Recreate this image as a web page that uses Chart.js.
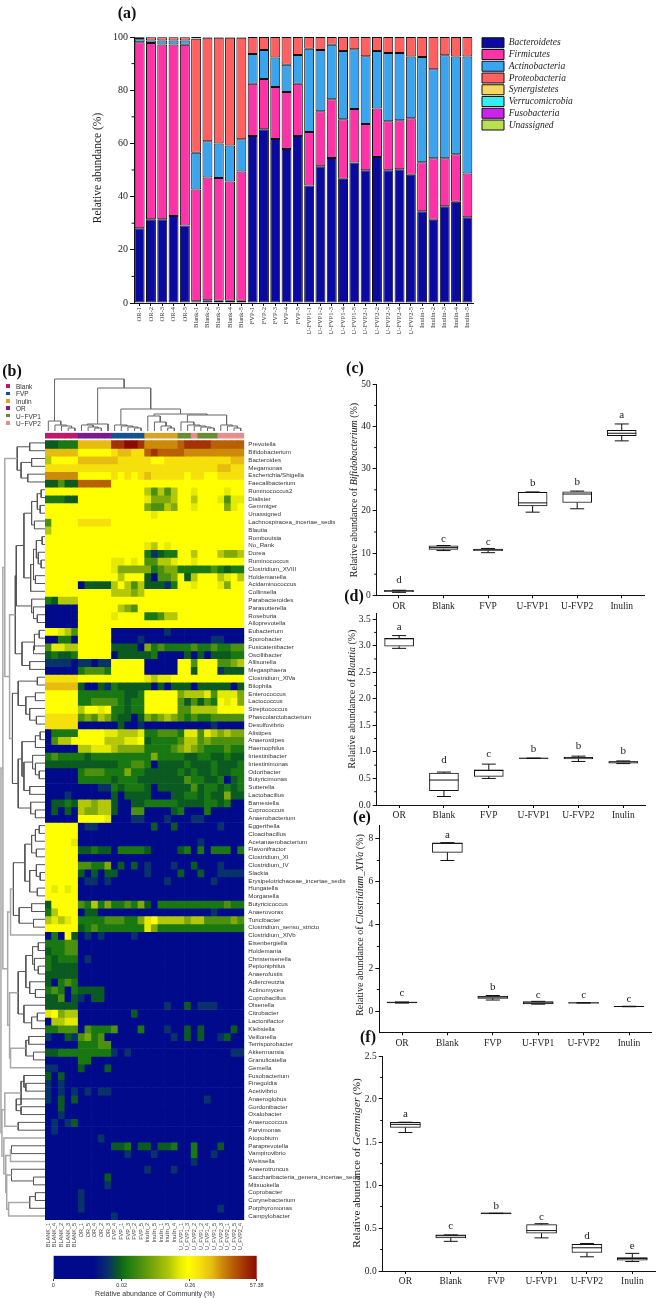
<!DOCTYPE html>
<html>
<head>
<meta charset="utf-8">
<script src="https://cdn.jsdelivr.net/npm/chart.js@4"></script>
<style>
  html, body { margin: 0; padding: 0; background: #fff; }
  body { position: relative; width: 657px; height: 1298px; overflow: hidden; }
  canvas { position: absolute; }
  .lbl { position: absolute; white-space: nowrap; color: #222; font-family: "Liberation Serif", serif; transform: translate(-50%, -50%); }
  .rot { transform: translate(-50%, -50%) rotate(-90deg); }
  .panel { font-weight: bold; font-size: 16px; color: #111; }
  .grp { font: 6.5px "Liberation Sans", sans-serif; color: #333; }
  .sq { position: absolute; width: 3.5px; height: 3.5px; }
</style>
</head>
<body>
<script>
// ---- panel (a) ----
const sampleLabels = ['OR-1','OR-2','OR-3','OR-4','OR-5','Blank-1','Blank-2','Blank-3','Blank-4','Blank-5',
  'FVP-1','FVP-2','FVP-3','FVP-4','FVP-5','U-FVP1-1','U-FVP1-2','U-FVP1-3','U-FVP1-4','U-FVP1-5',
  'U-FVP2-1','U-FVP2-2','U-FVP2-3','U-FVP2-4','U-FVP2-5','Inulin-1','Inulin-2','Inulin-3','Inulin-4','Inulin-5'];
const bacteroidetes = [28.1,31.5,31.5,32.7,29.1, 0.7,1,0.8,0.8,0.8, 62.8,65.3,61.7,57.9,62.8, 44.2,51.4,54.5,46.7,52.8, 49.9,54.9,49.9,50.3,48.2, 34.5,31.3,36.4,38.1,32.2];
const firmicutes = [69.9,66.2,65.7,64.5,68, 42,46.2,46.2,44.9,48.6, 19.6,18.9,19.5,21.4,19.6, 20.1,20.7,22.1,22.4,20.1, 17.4,18.2,18.4,18.4,21.3, 18.4,23.1,18,17.8,16.5];
const actinobacteria = [1.2,1,1.5,1.5,1.6, 13.8,13.6,13,13.5,12.2, 11.2,10.9,11.1,10.3,10.8, 31.3,23,20.5,25.6,22.5, 25.5,21.6,25.7,25.3,23.2, 39.6,33.5,38.7,36.8,44];
const proteobacteria = [0.7,1.2,1.2,1.2,1.2, 42.8,38.9,39.7,40.5,38.1, 6.4,4.9,7.7,10.4,6.8, 4.4,4.9,2.9,5.3,4.6, 7.2,5.3,6,6,7.3, 7.5,12.1,6.9,7.3,7.3];
const synergistetes = [0.03,0.03,0.03,0.03,0.03, 0.1,0.1,0.1,0.1,0.1, 0,0,0,0,0, 0,0,0,0,0, 0,0,0,0,0, 0,0,0,0,0];
const verrucomicrobia = [0,0,0,0,0, 0.05,0.05,0.05,0.05,0.05, 0,0,0,0,0, 0,0,0,0,0, 0,0,0,0,0, 0,0,0,0,0];
const fusobacteria = [0.02,0.02,0.02,0.02,0.02, 0.05,0,0,0,0, 0,0,0,0,0, 0,0,0,0,0, 0,0,0,0,0, 0,0,0,0,0];
const unassigned = [0.05,0.05,0.05,0.05,0.05, 0.5,0.15,0.15,0.15,0.15, 0,0,0,0,0, 0,0,0,0,0, 0,0,0,0,0, 0,0,0,0,0];
const phylaNames = ['Bacteroidetes','Firmicutes','Actinobacteria','Proteobacteria','Synergistetes','Verrucomicrobia','Fusobacteria','Unassigned'];
const phylaColors = ['#0a0aa0','#ff33a8','#3aa4ee','#ff6060','#f5d860','#33f0f0','#cc22ee','#b8e050'];
const phylaValues = [bacteroidetes,firmicutes,actinobacteria,proteobacteria,synergistetes,verrucomicrobia,fusobacteria,unassigned];
const aTicks = [0,20,40,60,80,100];

// ---- panel (b) ----
const groupNames = ['Blank','FVP','Inulin','OR','U−FVP1','U−FVP2'];
const groupColors = ['#c2186b','#17508e','#d9a324','#7a1a8c','#6b8a34','#e98c8c'];
const columnGroups = [0,0,0,0,0, 3,3,3,3,3, 1,1,1,1,1, 2,2,2,2,2, 4,4,5,4,4, 4,5,5,5,5];
const columnLabels = ['BLANK_1','BLANK_4','BLANK_2','BLANK_3','BLANK_5','OR_1','OR_5','OR_4','OR_2','OR_3',
  'FVP_4','FVP_1','FVP_3','FVP_2','FVP_5','Inulin_2','Inulin_5','Inulin_1','Inulin_3','Inulin_4',
  'U_FVP1_1','U_FVP1_3','U_FVP2_2','U_FVP1_2','U_FVP1_4','U_FVP1_5','U_FVP2_3','U_FVP2_1','U_FVP2_5','U_FVP2_4'];
const rowLabels = ['Prevotella','Bifidobacterium','Bacteroides','Megamonas','Escherichia/Shigella','Faecalibacterium','Ruminococcus2','Dialister','Gemmiger','Unassigned',
  'Lachnospiracea_incertae_sedis','Blautia','Romboutsia','No_Rank','Dorea','Ruminococcus','Clostridium_XVIII','Holdemanella','Acidaminococcus','Collinsella',
  'Parabacteroides','Parasutterella','Roseburia','Alloprevotella','Eubacterium','Sporobacter','Fusicatenibacter','Oscillibacter','Allisonella','Megasphaera',
  'Clostridium_XlVa','Bilophila','Enterococcus','Lactococcus','Streptococcus','Phascolarctobacterium','Desulfovibrio','Alistipes','Anaerostipes','Haemophilus',
  'Intestinibacter','Intestinimonas','Odoribacter','Butyricimonas','Sutterella','Lactobacillus','Barnesiella','Coprococcus','Anaerobacterium','Eggerthella',
  'Cloacibacillus','Acetanaerobacterium','Flavonifractor','Clostridium_XI','Clostridium_IV','Slackia','Erysipelotrichaceae_incertae_sedis','Hungatella','Morganella','Butyricicoccus',
  'Anaerovorax','Turicibacter','Clostridium_sensu_stricto','Clostridium_XlVb','Eisenbergiella','Holdemania','Christensenella','Peptoniphilus','Anaerofustis','Adlercreutzia',
  'Actinomyces','Coprobacillus','Olsenella','Citrobacter','Lactonifactor','Klebsiella','Veillonella','Terrisporobacter','Akkermansia','Granulicatella',
  'Gemella','Fusobacterium','Finegoldia','Acetivibrio','Anaeroglobus','Gordonibacter','Oxalobacter','Anaerococcus','Parvimonas','Atopobium',
  'Paraprevotella','Vampirovibrio','Weissella','Anaerotruncus','Saccharibacteria_genera_incertae_sedis','Mitsuokella','Coprobacter','Corynebacterium','Porphyromonas','Campylobacter'];
// cell values are read as steps on the colour bar: 0 navy, 3 green, 8 yellow, 11 orange, 14 dark red
const heatLevels = [
[2,2,3,3,3, 10,10,10,10,10, 13,13,14,14,13, 11,11,11,11,11, 12,13,13,13,13, 12,12,12,12,12],
[10,10,10,10,10, 8,8,8,8,8, 9,10,10,9,9, 12,13,12,12,12, 12,11,11,11,11, 11,11,11,11,11],
[6,8,8,8,8, 10,10,10,10,10, 10,9,9,9,9, 9,8,8,9,9, 9,9,9,9,9, 9,9,9,10,10],
[9,9,9,9,9, 9,9,9,9,9, 9,9,9,9,9, 9,9,9,9,9, 9,9,9,9,9, 9,10,10,9,9],
[11,11,11,11,11, 8,8,8,8,8, 9,8,9,8,9, 10,9,9,9,9, 9,8,9,9,8, 8,9,9,9,9],
[2,2,4,2,2, 12,12,12,12,12, 8,8,8,8,8, 8,8,8,8,8, 8,8,8,8,8, 8,8,8,8,8],
[8,8,8,8,8, 8,8,8,8,8, 8,8,8,8,8, 6,4,6,4,6, 8,8,7,8,8, 8,8,7,8,8],
[3,3,3,2,2, 8,8,8,8,8, 8,8,8,8,8, 7,5,5,5,6, 8,8,6,8,8, 8,7,4,7,7],
[8,8,8,8,8, 8,8,8,8,8, 8,8,8,8,8, 5,4,4,6,5, 8,8,7,8,8, 8,8,5,7,8],
[8,8,8,8,8, 8,8,8,8,8, 8,8,8,8,8, 8,7,8,8,8, 8,8,8,8,8, 8,8,8,8,8],
[4,8,8,8,8, 9,9,9,9,9, 8,8,8,8,8, 8,8,8,8,8, 8,8,8,8,8, 8,8,8,8,8],
[6,8,8,8,8, 8,8,8,8,8, 8,8,8,8,8, 8,8,8,8,8, 8,8,8,8,8, 8,8,8,8,8],
[8,8,8,8,8, 8,8,8,8,8, 8,8,8,8,8, 8,8,8,8,8, 8,8,8,8,8, 8,8,8,8,8],
[8,8,8,8,8, 8,8,8,8,8, 8,8,8,8,8, 7,6,8,7,8, 8,8,8,8,8, 8,8,8,8,8],
[8,8,8,8,8, 8,8,8,8,8, 8,8,8,8,8, 3,1,2,3,3, 8,8,6,8,8, 8,6,5,5,6],
[8,8,8,8,8, 8,8,8,8,8, 7,7,8,7,8, 4,4,6,6,7, 8,8,7,8,8, 8,8,8,8,8],
[8,8,8,8,8, 8,8,8,8,8, 7,5,5,5,5, 5,3,4,5,5, 3,3,3,3,3, 4,3,2,3,3],
[8,8,8,8,8, 8,8,8,8,8, 8,6,8,8,8, 2,0,4,4,5, 8,2,6,8,8, 8,6,7,8,6],
[8,8,8,8,8, 0,2,2,2,2, 6,8,6,4,6, 2,2,2,1,3, 8,8,7,8,8, 8,7,5,8,8],
[8,8,8,8,8, 8,8,8,8,8, 6,6,6,5,6, 8,8,8,8,8, 8,8,8,8,8, 8,8,8,8,8],
[3,2,6,6,6, 8,8,8,8,8, 8,8,8,8,8, 8,8,8,8,8, 8,8,8,8,8, 8,8,8,8,8],
[0,0,0,0,0, 8,8,8,8,8, 8,6,5,4,8, 8,8,8,8,8, 8,8,8,8,8, 8,8,8,8,8],
[0,0,0,0,0, 8,8,8,8,8, 7,8,8,8,8, 3,3,4,6,6, 8,8,8,8,8, 8,8,8,8,8],
[0,0,0,0,0, 8,8,8,8,8, 8,8,8,8,8, 8,8,8,8,8, 8,8,8,8,8, 8,8,8,8,8],
[8,8,7,6,4, 8,8,8,8,8, 0,0,0,0,0, 0,0,0,1,0, 0,0,0,0,0, 0,0,0,0,0],
[0,0,3,3,0, 8,8,8,8,8, 0,0,0,0,1, 0,0,0,0,0, 0,0,0,0,0, 1,1,0,0,0],
[4,7,7,6,6, 8,8,8,8,8, 2,2,2,2,0, 5,3,4,3,3, 3,3,4,3,3, 4,3,3,4,4],
[2,3,2,2,3, 8,8,8,8,8, 0,2,2,2,2, 2,3,0,0,0, 0,2,0,2,0, 2,2,2,3,3],
[1,1,1,1,0, 1,1,0,1,1, 8,8,8,8,8, 0,0,0,0,0, 8,8,4,8,8, 8,4,4,5,6],
[0,0,0,0,0, 3,4,4,4,3, 8,8,8,8,8, 0,0,0,0,0, 8,8,2,8,8, 8,1,2,2,2],
[9,9,9,9,9, 8,8,8,8,8, 8,8,8,8,8, 7,6,7,7,8, 8,8,8,8,8, 8,8,8,8,8],
[10,10,10,10,10, 2,0,0,2,1, 3,2,2,2,2, 2,0,2,0,2, 2,2,0,2,2, 2,2,2,0,2],
[8,8,8,8,8, 3,3,3,3,3, 3,3,2,2,3, 8,8,8,8,8, 5,6,6,6,7, 4,7,7,7,5],
[8,8,8,8,8, 3,3,4,4,4, 4,3,2,3,3, 8,8,8,8,8, 4,2,4,2,4, 3,8,7,8,5],
[8,8,8,8,8, 6,8,8,7,8, 3,3,2,3,3, 8,8,8,8,8, 4,4,6,6,6, 6,8,8,8,8],
[9,9,9,9,9, 4,5,4,6,5, 3,2,2,0,2, 5,4,5,6,5, 4,3,4,3,3, 4,4,4,4,4],
[9,9,9,9,9, 0,0,0,0,0, 0,2,0,0,1, 0,0,0,0,0, 0,0,0,0,0, 1,0,0,0,0],
[0,3,3,3,3, 8,8,8,8,7, 7,6,6,6,7, 3,3,4,4,4, 3,7,7,4,7, 6,5,6,5,5],
[0,4,6,6,8, 8,8,8,8,6, 6,6,7,7,8, 2,3,3,3,3, 4,6,6,4,5, 4,4,4,4,4],
[0,0,0,0,0, 6,6,7,7,7, 6,5,5,5,5, 3,3,3,3,4, 5,6,5,4,3, 3,3,4,3,3],
[3,4,3,3,3, 3,2,3,3,3, 3,3,3,3,3, 3,5,3,3,3, 3,2,2,3,3, 2,2,3,2,2],
[2,2,2,2,2, 2,2,2,2,2, 2,3,3,4,4, 3,0,2,2,2, 2,3,2,2,2, 3,2,2,2,3],
[0,0,0,0,0, 3,4,4,4,3, 3,3,5,3,3, 2,2,2,2,2, 3,2,3,2,2, 3,2,2,3,3],
[0,0,0,0,0, 3,3,3,3,3, 2,3,3,3,2, 2,2,2,2,2, 2,4,3,3,2, 2,3,0,2,3],
[0,0,0,0,0, 0,0,0,1,1, 3,2,3,3,3, 2,0,2,2,2, 2,2,4,2,3, 3,2,3,2,3],
[0,0,0,1,0, 0,0,0,0,0, 2,0,2,2,2, 2,0,0,0,2, 2,3,3,2,3, 2,2,5,2,2],
[0,2,2,3,2, 6,6,5,6,6, 2,0,0,2,2, 3,3,3,3,3, 2,2,2,2,3, 3,2,3,0,0],
[0,2,0,2,0, 6,5,5,6,6, 2,0,0,4,4, 0,0,0,0,2, 3,0,0,0,3, 0,0,0,0,0],
[0,0,0,0,0, 8,8,8,8,7, 0,0,0,1,1, 0,0,0,1,0, 0,0,1,1,0, 0,0,0,0,0],
[8,8,8,8,8, 0,1,1,0,0, 0,0,0,0,0, 0,2,0,0,2, 0,0,0,0,0, 0,1,0,0,0],
[8,8,8,8,8, 0,0,0,0,0, 0,0,0,0,0, 0,0,0,0,0, 0,0,0,0,0, 0,0,0,0,0],
[8,8,8,8,7, 0,0,0,0,0, 0,0,0,0,0, 0,0,0,0,0, 0,0,0,1,0, 0,0,0,0,0],
[8,8,8,8,8, 2,2,3,2,2, 0,3,3,3,3, 2,0,0,0,0, 2,3,0,3,0, 3,3,3,0,3],
[8,8,8,8,8, 0,0,0,0,0, 0,0,0,0,0, 0,0,0,0,0, 0,0,0,0,0, 0,0,0,0,0],
[8,8,8,8,8, 4,4,3,3,5, 0,2,0,2,0, 1,0,0,0,1, 0,0,2,0,0, 0,1,0,0,0],
[8,8,8,8,8, 2,0,2,0,2, 2,0,0,0,0, 1,0,0,0,0, 2,0,0,2,0, 0,1,1,1,1],
[8,8,8,8,8, 0,1,1,0,1, 0,0,0,0,0, 0,0,0,1,0, 0,0,0,0,0, 1,0,0,0,0],
[8,7,8,7,8, 0,0,0,0,0, 0,0,0,0,0, 0,0,0,0,0, 0,0,0,0,0, 0,0,0,0,0],
[8,8,8,8,8, 0,0,0,0,0, 0,0,0,0,0, 0,0,0,0,0, 0,0,0,0,0, 0,0,0,0,0],
[2,8,8,8,8, 4,3,6,3,5, 3,3,4,3,5, 2,0,3,3,3, 3,3,3,3,3, 3,3,4,3,3],
[3,6,8,8,8, 0,2,2,0,0, 0,0,0,0,0, 0,0,0,0,0, 0,0,0,0,0, 1,0,0,0,0],
[6,7,6,7,8, 3,3,3,3,4, 4,4,3,3,5, 7,8,6,6,6, 6,5,6,6,4, 4,4,4,5,4],
[8,8,8,8,8, 2,3,4,3,3, 3,3,3,3,3, 7,5,3,3,3, 3,3,3,3,3, 3,3,3,3,3],
[0,3,0,8,2, 0,1,0,1,0, 0,0,0,1,0, 0,0,0,0,0, 0,0,0,0,0, 0,0,0,0,0],
[3,3,3,4,4, 0,0,0,0,0, 0,0,0,0,0, 0,0,0,0,0, 0,0,0,0,0, 0,0,0,0,0],
[2,3,3,4,4, 0,0,0,0,0, 0,0,0,0,0, 0,0,0,0,0, 0,0,0,0,0, 0,0,0,0,0],
[3,2,3,3,3, 0,1,0,0,0, 0,0,0,0,0, 0,0,0,0,0, 0,0,0,0,0, 0,0,0,0,0],
[3,2,2,2,2, 0,0,0,0,0, 0,0,0,0,0, 0,0,0,0,0, 0,0,0,0,0, 0,0,0,0,0],
[2,2,2,2,2, 0,0,0,0,0, 0,0,0,0,0, 0,0,0,0,0, 0,0,0,0,0, 0,0,0,0,0],
[2,0,3,4,3, 0,0,0,0,0, 0,0,0,0,0, 0,0,0,0,0, 0,0,0,0,0, 0,0,0,0,0],
[3,4,3,0,3, 2,2,2,2,0, 0,0,0,0,0, 0,0,0,0,0, 0,0,0,0,0, 0,0,0,0,0],
[2,2,4,0,2, 1,0,2,2,0, 0,0,0,0,0, 0,0,0,0,0, 0,0,0,0,0, 0,0,0,0,0],
[2,2,2,2,2, 0,0,0,0,0, 0,0,0,0,0, 0,0,0,1,0, 0,2,0,1,1, 1,0,0,0,0],
[7,8,5,6,6, 0,0,0,0,0, 0,0,0,2,0, 0,0,0,0,0, 0,0,0,0,0, 0,0,0,0,0],
[0,6,6,7,7, 0,0,0,0,0, 0,0,0,0,0, 0,0,0,0,0, 0,0,0,0,0, 0,0,0,0,0],
[3,3,4,4,4, 0,4,3,3,3, 4,0,0,0,3, 0,0,0,1,0, 0,2,0,2,0, 0,0,0,2,0],
[1,0,0,2,1, 4,5,3,4,0, 0,0,0,0,0, 0,0,0,0,1, 0,2,0,2,0, 0,1,2,0,0],
[0,0,0,0,0, 3,3,3,4,4, 0,0,0,0,0, 0,0,0,0,0, 0,0,0,0,0, 0,0,0,0,0],
[2,2,3,3,3, 3,3,3,3,3, 1,0,1,0,0, 0,0,0,0,0, 0,0,0,0,0, 0,0,0,1,1],
[0,0,0,0,0, 3,3,0,0,0, 0,0,0,0,0, 0,0,0,0,0, 0,0,0,0,0, 0,0,0,0,0],
[1,1,0,0,0, 2,0,0,0,2, 0,0,0,0,0, 0,0,0,0,0, 0,0,0,0,0, 0,0,0,0,0],
[2,0,2,0,0, 0,0,0,0,0, 0,0,0,0,0, 0,0,0,0,0, 0,0,0,0,0, 0,0,0,0,0],
[1,0,1,0,0, 0,0,0,0,0, 0,0,0,0,0, 0,0,0,0,0, 0,0,0,0,0, 0,0,0,0,0],
[1,0,1,0,1, 0,1,0,1,1, 0,0,0,0,0, 0,0,0,0,0, 0,0,0,0,0, 0,0,0,0,0],
[1,0,2,0,2, 0,0,0,0,0, 0,0,0,0,0, 0,0,0,0,0, 0,0,0,0,1, 0,0,0,0,0],
[0,0,2,0,0, 0,0,0,0,0, 0,0,0,0,0, 0,0,0,0,0, 0,0,0,0,0, 0,0,0,0,0],
[0,0,1,0,0, 0,0,0,0,0, 0,0,0,0,0, 0,0,0,0,0, 0,0,0,0,0, 0,0,0,0,0],
[0,1,0,1,2, 0,0,0,0,0, 0,0,0,0,0, 0,0,0,0,0, 0,0,0,0,0, 0,0,0,0,0],
[0,1,0,0,0, 0,0,0,0,0, 0,0,0,0,0, 0,0,0,0,0, 0,0,0,0,0, 0,0,0,0,0],
[0,0,0,0,0, 0,0,0,1,0, 0,0,0,0,0, 0,0,0,0,0, 0,0,0,0,0, 0,0,0,0,0],
[0,0,0,0,0, 0,0,0,0,0, 2,2,3,0,2, 2,0,2,2,3, 0,0,3,0,0, 0,2,0,0,0],
[0,0,0,0,0, 0,0,0,0,0, 0,0,1,0,0, 0,1,0,0,0, 0,0,3,0,0, 1,0,0,0,0],
[0,0,0,0,0, 0,0,0,0,0, 0,0,0,0,0, 0,0,0,0,0, 0,0,1,0,0, 0,0,0,0,0],
[0,0,0,0,0, 0,0,0,0,0, 0,0,0,0,0, 1,0,0,0,1, 0,0,0,0,0, 0,0,0,0,0],
[0,0,0,0,0, 0,0,0,0,2, 0,0,0,0,0, 0,0,0,0,0, 0,0,0,0,0, 0,0,0,0,0],
[0,0,0,0,0, 0,0,0,0,1, 0,0,0,0,0, 0,0,0,0,0, 0,0,0,0,0, 0,0,0,0,0],
[0,0,0,0,0, 1,0,0,0,0, 0,0,0,0,0, 0,0,0,0,0, 0,0,0,0,0, 0,0,0,0,0],
[0,0,0,0,0, 1,0,0,0,0, 0,0,0,0,0, 0,0,0,0,0, 0,0,0,0,0, 0,0,0,0,0],
[0,0,0,0,0, 1,0,0,0,0, 0,0,0,0,0, 0,0,0,0,0, 0,0,0,0,0, 0,1,0,0,0],
[0,0,0,0,0, 0,0,0,0,0, 1,0,0,0,0, 0,0,0,0,0, 0,0,0,0,0, 0,0,0,0,0]
];
// colour bar: colour of each step and where that step sits along the bar
const stepColors = ['#000a8a','#08326a','#0a5a22','#197812','#4c900e','#80aa0a','#b2c808','#e4ea02','#ffff00','#f6e00c','#e6bc10','#cc8a08','#b86006','#a33204','#8b0a00'];
const stepPositions = [0.2,0.27,0.32,0.36,0.43,0.5,0.57,0.62,0.664,0.72,0.78,0.83,0.88,0.94,1];
const barTicks = [0,0.336,0.672,1];
const barTickLabels = ['0','0.02','0.26','57.38'];
// dendrograms: [height, childA, childB], a plain number is a row or column index
const g1 = [29,[16,0,1],[25,[14,2,3],[18,4,5]]];
const g2 = [30,[22,[14,[8,[4,6,7],[5,8,9]],[11,10,11]],[15,[12,[9,[3,12,13],[7,14,[4,15,16]]],[10,17,18]],19]],[14,20,[12,21,[8,22,23]]]];
const g3 = [24,[11,[6,24,25],[12,26,27]],[16,28,29]];
const d1 = [28,[8,30,31],[20,[10,32,33],[16,34,[9,35,36]]]];
const d2 = [28,[24,[10,[5,37,38],39],[22,[13,40,[10,41,[6,42,43]]],[16,44,45]]],[15,46,[10,47,48]]];
const d3 = [36,[33,[21,[14,[10,[6,49,50],51],[9,52,53]],[16,[9,54,[5,55,56]],[8,57,58]]],[27,[14,59,60],[12,61,62]]],63];
const d4 = [28,[20,[13,[7,64,65],[11,66,[7,67,68]]],[16,69,[10,70,71]]],[22,72,[14,[8,73,74],75]]];
const d5 = [36,[20,[17,76,77],[12,78,79]],80];
const d6 = [42,[25,[22,81,[20,82,83]],[30,84,[25,85,86]]],[28,87,88]];
const d7 = [43,89,[41,[36,[35,90,91],92],[40,[35,93,[12,94,95]],[38,[16,[10,96,97],98],99]]]];
const rowTree = [46,[44,[42,g1,[37,[31,g2,g3],[34,d1,d2]]],[39,d3,[37,d4,d5]]],[45,d6,d7]];
const columnTree = [52,[10,0,[6,1,[5,2,[3,3,4]]]],[43,[7,[6,5,[4,6,[3,7,8]]],9],[22,[6,10,[5,11,[4,12,[3,13,14]]]],[17,[15,15,[9,16,[5,17,[3,18,19]]]],[16,[9,20,[6,21,[5,22,[4,23,[3,24,25]]]]],[6,26,[5,27,[3,28,29]]]]]]]];

// ---- panels (c) to (f) ----
const boxGroups = ['OR','Blank','FVP','U-FVP1','U-FVP2','Inulin'];
const cTicks = [0,10,20,30,40,50];
const cQ1 = [0.85,10.9,10.6,21.2,22,37.8];
const cQ3 = [1.15,11.7,10.95,24.4,24.5,39.1];
const cMedian = [1,11.3,10.8,21.9,24,38.4];
const cLow = [0.7,10.6,10.1,19.7,20.5,36.6];
const cHigh = [1.2,11.8,11.1,24.5,24.7,40.6];
const cLetters = ['d','c','c','b','b','a'];
const cLetterY = [3.5,13.3,12.6,26.5,26.9,42.6];

const dTicks = [0,0.5,1,1.5,2,2.5,3,3.5];
const dQ1 = [2.99,0.27,0.54,0.875,0.87,0.79];
const dQ3 = [3.14,0.6,0.66,0.885,0.9,0.82];
const dMedian = [3.13,0.47,0.65,0.88,0.89,0.81];
const dLow = [2.95,0.16,0.5,0.88,0.82,0.78];
const dHigh = [3.19,0.62,0.77,0.88,0.92,0.83];
const dLetters = ['a','d','c','b','b','b'];
const dLetterY = [3.35,0.84,0.96,1.06,1.11,1.02];

const eTicks = [0,2,4,6,8];
const eQ1 = [0.38,7.38,0.59,0.33,0.37,0.2];
const eQ3 = [0.42,7.81,0.7,0.44,0.39,0.22];
const eMedian = [0.4,7.8,0.65,0.38,0.38,0.21];
const eLow = [0.37,7,0.51,0.32,0.38,0.2];
const eHigh = [0.42,7.83,0.72,0.45,0.38,0.22];
const eLetters = ['c','a','b','c','c','c'];
const eLetterY = [0.81,8.17,1.1,0.76,0.74,0.56];

const fTicks = [0,0.5,1,1.5,2,2.5];
const fQ1 = [1.67,0.385,0.665,0.44,0.215,0.125];
const fQ3 = [1.73,0.42,0.675,0.54,0.31,0.155];
const fMedian = [1.705,0.41,0.67,0.47,0.27,0.145];
const fLow = [1.61,0.345,0.67,0.385,0.165,0.11];
const fHigh = [1.73,0.42,0.67,0.55,0.32,0.205];
const fLetters = ['a','c','b','c','d','e'];
const fLetterY = [1.83,0.52,0.76,0.63,0.41,0.29];

Chart.defaults.font.family = '"Liberation Serif", serif';
Chart.defaults.color = '#222';
Chart.defaults.animation = false;
Chart.defaults.responsive = false;
Chart.defaults.plugins.tooltip.enabled = false;
Chart.defaults.plugins.legend.display = false;

function addCanvas(x, y, w, h) {
    const c = document.createElement('canvas');
    c.width = w;
    c.height = h;
    c.style.left = x + 'px';
    c.style.top = y + 'px';
    document.body.appendChild(c);
    return c;
}

function addLabel(html, x, y, cls, size) {
    const d = document.createElement('div');
    d.className = 'lbl ' + (cls || '');
    d.innerHTML = html;
    d.style.left = x + 'px';
    d.style.top = y + 'px';
    if (size) d.style.fontSize = size + 'px';
    document.body.appendChild(d);
}

// short ticks half way between the major ones
const minorTicks = {
    id: 'minorTicks',
    afterDraw(chart) {
        const y = chart.scales.y, ctx = chart.ctx;
        ctx.save();
        ctx.strokeStyle = '#111';
        ctx.lineWidth = 1;
        ctx.beginPath();
        y.ticks.slice(1).forEach((t, i) => {
            const p = y.getPixelForValue((t.value + y.ticks[i].value) / 2);
            ctx.moveTo(y.right, p);
            ctx.lineTo(y.right - 2.5, p);
        });
        ctx.stroke();
        ctx.restore();
    }
};

// legend sits beside the plot, the box is moved there so the plot keeps its width
const legendPlace = {
    id: 'legendPlace',
    beforeDraw(chart) {
        const lg = chart.legend;
        lg.left = 480.25;
        lg.top = 36;
        lg.right = 657;
        lg.bottom = 140;
    }
};

// panel (a)
new Chart(addCanvas(0, 0, 657, 345), {
    type: 'bar',
    data: {
        labels: sampleLabels,
        datasets: phylaNames.map((name, i) => ({
            label: name,
            data: phylaValues[i],
            backgroundColor: phylaColors[i],
            borderColor: '#111',
            borderWidth: 1,
            borderSkipped: false,
            inflateAmount: 0,
            barPercentage: 0.88,
            categoryPercentage: 1
        }))
    },
    options: {
        layout: { padding: { top: 37, right: 184 } },
        plugins: {
            legend: {
                display: true,
                position: 'chartArea',
                align: 'start',
                labels: {
                    boxWidth: 22,
                    boxHeight: 10,
                    padding: 1.75,
                    color: '#222',
                    font: { size: 9.5, style: 'italic' }
                }
            }
        },
        scales: {
            x: {
                stacked: true,
                grid: { offset: false, drawOnChartArea: false, tickLength: 3, color: '#111' },
                border: { color: '#111' },
                ticks: { autoSkip: false, minRotation: 90, maxRotation: 90, padding: 1, color: '#333', font: { size: 6.5 } },
                afterFit: s => { s.height = 42; }
            },
            y: {
                stacked: true,
                min: 0,
                max: 100,
                afterBuildTicks: s => { s.ticks = aTicks.map(value => ({ value })); },
                grid: { drawOnChartArea: false, tickLength: 4, color: '#111' },
                border: { color: '#111' },
                ticks: { padding: 2, color: '#222', font: { size: 10 } },
                afterFit: s => { s.width = 134; }
            }
        }
    },
    plugins: [minorTicks, legendPlace]
});

// panel (b) heatmap
const heatDatasets = heatLevels.map((row, r) => ({
    data: row.map(() => [r, r + 1]),
    backgroundColor: row.map(v => stepColors[v]),
    borderWidth: 0,
    barPercentage: 1,
    categoryPercentage: 1,
    grouped: false
}));
heatDatasets.push({
    data: columnGroups.map(() => [-1, -0.3]),
    backgroundColor: columnGroups.map(g => groupColors[g]),
    borderWidth: 0,
    barPercentage: 1,
    categoryPercentage: 1,
    grouped: false
});

new Chart(addCanvas(40, 425, 320, 835), {
    type: 'bar',
    data: { labels: columnLabels, datasets: heatDatasets },
    options: {
        layout: { padding: { left: 5, top: 6.2 } },
        scales: {
            x: {
                grid: { display: false, drawTicks: false },
                border: { display: false },
                ticks: { autoSkip: false, minRotation: 90, maxRotation: 90, padding: 3, color: '#444', font: { family: '"Liberation Sans", sans-serif', size: 5.5 } },
                afterFit: s => { s.height = 40; }
            },
            y: {
                position: 'right',
                reverse: true,
                min: -1,
                max: 100,
                afterBuildTicks: s => { s.ticks = rowLabels.map((_, i) => ({ value: i + 0.5 })); },
                grid: { display: false, drawTicks: false },
                border: { display: false },
                ticks: {
                    autoSkip: false,
                    padding: 4,
                    color: '#333',
                    font: { family: '"Liberation Sans", sans-serif', size: 6.2 },
                    callback: v => rowLabels[v - 0.5]
                },
                afterFit: s => { s.width = 115.7; }
            }
        }
    }
});

// dendrogram segments from a nested tree, split at one height into dark and light lines
function treeLines(tree, lightFrom) {
    const dark = [], light = [];
    const gap = { h: NaN, pos: NaN };
    const walk = node => {
        if (typeof node === 'number') return { h: 0, pos: node + 0.5 };
        const a = walk(node[1]), b = walk(node[2]);
        const h = node[0];
        const out = h >= lightFrom ? light : dark;
        out.push({ h: a.h, pos: a.pos }, { h, pos: a.pos }, { h, pos: b.pos }, { h: b.h, pos: b.pos }, gap);
        return { h, pos: (a.pos + b.pos) / 2 };
    };
    walk(tree);
    return { dark, light };
}

const rowLines = treeLines(rowTree, 36);
new Chart(addCanvas(0, 439, 45, 781), {
    type: 'scatter',
    data: {
        datasets: [
            { data: rowLines.light.map(p => ({ x: p.h, y: p.pos })), showLine: true, pointRadius: 0, borderColor: '#a8a8a8', borderWidth: 1.5 },
            { data: rowLines.dark.map(p => ({ x: p.h, y: p.pos })), showLine: true, pointRadius: 0, borderColor: '#555', borderWidth: 1 }
        ]
    },
    options: {
        scales: {
            x: { display: false, reverse: true, min: 0, max: 47 },
            y: { display: false, reverse: true, min: 0, max: 100 }
        }
    }
});

const colLines = treeLines(columnTree, 100);
new Chart(addCanvas(45, 375, 199, 56), {
    type: 'scatter',
    data: {
        datasets: [
            { data: colLines.dark.map(p => ({ x: p.pos, y: p.h })), showLine: true, pointRadius: 0, borderColor: '#666', borderWidth: 1 }
        ]
    },
    options: {
        scales: {
            x: { display: false, min: 0, max: 30 },
            y: { display: false, min: 0, max: 56 }
        }
    }
});

// panel (b) colour bar
new Chart(addCanvas(40, 1248, 240, 50), {
    type: 'bar',
    data: {
        labels: [''],
        datasets: [{
            data: [[0, 1]],
            borderWidth: 0,
            barPercentage: 1,
            categoryPercentage: 1,
            backgroundColor: ctx => {
                const area = ctx.chart.chartArea;
                if (!area) return stepColors[0];
                const g = ctx.chart.ctx.createLinearGradient(area.left, 0, area.right, 0);
                g.addColorStop(0, stepColors[0]);
                stepColors.forEach((c, i) => g.addColorStop(stepPositions[i], c));
                return g;
            }
        }]
    },
    options: {
        indexAxis: 'y',
        layout: { padding: { top: 7.7, left: 13.3, right: 23.3 } },
        scales: {
            y: { display: false },
            x: {
                min: 0,
                max: 1,
                afterBuildTicks: s => { s.ticks = barTicks.map(value => ({ value })); },
                grid: { drawOnChartArea: false, tickLength: 2, color: '#333' },
                border: { display: false },
                ticks: {
                    padding: 1,
                    maxRotation: 0,
                    color: '#333',
                    font: { family: '"Liberation Sans", sans-serif', size: 5.5 },
                    callback: v => barTickLabels[barTicks.indexOf(v)]
                },
                title: { display: true, text: 'Relative abundance of Community (%)', color: '#333', padding: { top: 1, bottom: 0 }, font: { family: '"Liberation Sans", sans-serif', size: 7 } },
                afterFit: s => { s.height = 19; }
            }
        }
    }
});

// whiskers, caps, medians and significance letters of a box panel
function boxMarks(median, low, high, letters, letterY) {
    return {
        id: 'boxMarks',
        afterDatasetsDraw(chart) {
            const x = chart.scales.x, y = chart.scales.y, ctx = chart.ctx;
            const half = chart.getDatasetMeta(0).data[0].width / 2;
            ctx.save();
            ctx.strokeStyle = '#111';
            ctx.lineWidth = 1;
            ctx.fillStyle = '#222';
            ctx.font = '11px "Liberation Serif", serif';
            ctx.textAlign = 'center';
            ctx.textBaseline = 'middle';
            boxGroups.forEach((g, i) => {
                const cx = x.getPixelForValue(i);
                const q1 = chart.data.datasets[0].data[i][0], q3 = chart.data.datasets[0].data[i][1];
                ctx.beginPath();
                ctx.moveTo(cx, y.getPixelForValue(low[i]));
                ctx.lineTo(cx, y.getPixelForValue(q1));
                ctx.moveTo(cx, y.getPixelForValue(q3));
                ctx.lineTo(cx, y.getPixelForValue(high[i]));
                [low[i], high[i]].forEach(v => {
                    ctx.moveTo(cx - 7, y.getPixelForValue(v));
                    ctx.lineTo(cx + 7, y.getPixelForValue(v));
                });
                ctx.moveTo(cx - half, y.getPixelForValue(median[i]));
                ctx.lineTo(cx + half, y.getPixelForValue(median[i]));
                ctx.stroke();
                ctx.fillText(letters[i], cx, y.getPixelForValue(letterY[i]));
            });
            ctx.restore();
        }
    };
}

function boxPanel(canvasTop, canvasBottom, plotLeft, plotRight, plotTop, plotBottom, yMin, yMax, ticks, decimals, barWidth, q1, q3, median, low, high, letters, letterY) {
    const canvasLeft = 340, canvasWidth = 317;
    new Chart(addCanvas(canvasLeft, canvasTop, canvasWidth, canvasBottom - canvasTop), {
        type: 'bar',
        data: {
            labels: boxGroups,
            datasets: [{
                data: q1.map((v, i) => [v, q3[i]]),
                backgroundColor: '#fff',
                borderColor: '#111',
                borderWidth: 1,
                borderSkipped: false,
                barThickness: barWidth
            }]
        },
        options: {
            layout: { padding: { top: plotTop - canvasTop, right: canvasLeft + canvasWidth - plotRight } },
            scales: {
                x: {
                    grid: { offset: false, drawOnChartArea: false, tickLength: 3, color: '#111' },
                    border: { color: '#111' },
                    ticks: { padding: 2, maxRotation: 0, color: '#222', font: { size: 9.5 } },
                    afterFit: s => { s.height = canvasBottom - plotBottom; }
                },
                y: {
                    min: yMin,
                    max: yMax,
                    afterBuildTicks: s => { s.ticks = ticks.map(value => ({ value })); },
                    grid: { drawOnChartArea: false, tickLength: 4, color: '#111' },
                    border: { color: '#111' },
                    ticks: { padding: 2, color: '#222', font: { size: 9.5 }, callback: v => v.toFixed(decimals) },
                    afterFit: s => { s.width = plotLeft - canvasLeft; }
                }
            }
        },
        plugins: [minorTicks, boxMarks(median, low, high, letters, letterY)]
    });
}

boxPanel(370, 610, 376.7, 644, 384.3, 595.3, 0, 50, cTicks, 0, 29, cQ1, cQ3, cMedian, cLow, cHigh, cLetters, cLetterY);
boxPanel(603, 820, 376.7, 645.7, 613.3, 805, 0, 3.61, dTicks, 1, 29, dQ1, dQ3, dMedian, dLow, dHigh, dLetters, dLetterY);
boxPanel(815, 1048, 379.3, 651.7, 825, 1032.3, -0.99, 8.65, eTicks, 0, 30, eQ1, eQ3, eMedian, eLow, eHigh, eLetters, eLetterY);
boxPanel(1046, 1288, 382.7, 655, 1056, 1271, 0, 2.5, fTicks, 1, 30, fQ1, fQ3, fMedian, fLow, fHigh, fLetters, fLetterY);

// text that needs mixed italics or sits outside a chart
addLabel('(a)', 127, 13, 'panel');
addLabel('(b)', 12, 371, 'panel');
addLabel('(c)', 355, 368, 'panel');
addLabel('(d)', 354, 596, 'panel');
addLabel('(e)', 362, 817, 'panel');
addLabel('(f)', 368, 1037, 'panel');
addLabel('Relative abundance (%)', 96.5, 168, 'rot', 11.5);
addLabel('Relative abundance of <i>Bifidobacterium</i> (%)', 353, 490, 'rot', 10);
addLabel('Relative abundance of <i>Blautia</i> (%)', 350.7, 699, 'rot', 10);
addLabel('Relative abundance of <i>Clostridium_XIVa</i> (%)', 359, 925, 'rot', 10);
addLabel('Relative abundance of <i>Gemmiger</i> (%)', 355.7, 1163, 'rot', 11.2);

groupNames.forEach((name, i) => {
    const y = 386 + i * 7.4;
    const sq = document.createElement('div');
    sq.className = 'sq';
    sq.style.left = '6px';
    sq.style.top = (y - 1.75) + 'px';
    sq.style.background = groupColors[i];
    document.body.appendChild(sq);
    const d = document.createElement('div');
    d.className = 'lbl grp';
    d.style.transform = 'translate(0, -50%)';
    d.style.left = '16px';
    d.style.top = y + 'px';
    d.textContent = name;
    document.body.appendChild(d);
});
</script>
</body>
</html>
